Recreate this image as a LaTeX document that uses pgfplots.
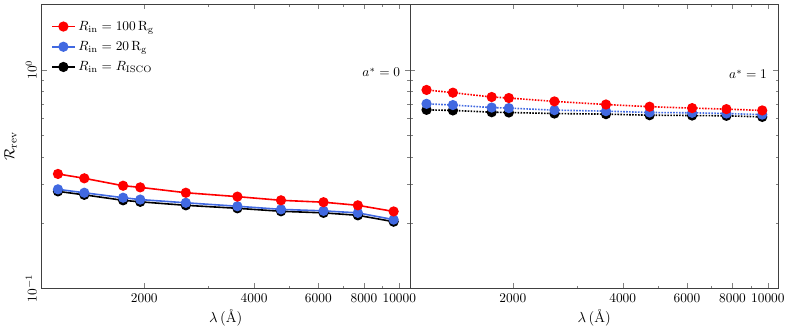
\documentclass[border=0pt]{standalone}
\usepackage{pgfplots}
\pgfplotsset{compat=1.18}
\definecolor{rblue}{RGB}{65,105,225}

% lambda [A], spin 0 (solid) and spin 1 (dotted) ratios
\pgfplotstableread{
lam   sa   sb   sc   ta   tb   tc
1160 0.334 0.284 0.278 0.809 0.699 0.656
1370 0.319 0.274 0.268 0.786 0.690 0.652
1750 0.295 0.260 0.253 0.751 0.672 0.640
1950 0.290 0.255 0.249 0.743 0.668 0.638
2600 0.274 0.2465 0.240 0.717 0.654 0.631
3600 0.263 0.2377 0.2326 0.694 0.647 0.627
4740 0.253 0.230 0.2254 0.678 0.638 0.620
6200 0.248 0.2264 0.2217 0.668 0.636 0.618
7700 0.240 0.2217 0.216 0.661 0.631 0.616
9650 0.225 0.2064 0.202 0.652 0.624 0.609
}\datatab

\pgfplotsset{
  every axis/.append style={
    scale only axis,
    width=276pt, height=213pt,
    xmin=1045, xmax=10700,
    ymin=0.1, ymax=2,
    xtick={2000,4000,6000,8000,10000},
    xticklabels={2000,4000,6000,8000,10000},
    minor xtick={3000,5000,7000,9000},
    ytick={0.1,1},
    minor ytick={0.2,0.3,0.4,0.5,0.6,0.7,0.8,0.9,2},
    major tick length=4pt,
    minor tick length=2pt,
    axis line style={black!75},
    xlabel={$\lambda\,(\mbox{\AA})$},
    xlabel style={font=\fontsize{11}{13}\selectfont, yshift=2pt},
    yticklabel style={rotate=90, anchor=south},
  },
}
\tikzset{sz/.style={line width=1.2pt, mark=*, mark size=3.2pt, mark options={solid}}}

\begin{document}
\begin{tikzpicture}
\begin{loglogaxis}[name=left,
    ylabel={$\mathcal{R}_{\rm rev}$},
    ylabel style={font=\fontsize{11}{13}\selectfont},
    reverse legend,
    legend cell align=left,
    legend style={draw=none, fill=none, at={(0.015,0.96)}, anchor=north west,
      row sep=2.8pt},
  ]
  \addplot[sz, color=black] table[x=lam, y=sc] {\datatab};
  \addlegendentry{$R_{\rm in}=R_{\rm ISCO}$}
  \addplot[sz, color=rblue] table[x=lam, y=sb] {\datatab};
  \addlegendentry{$R_{\rm in}=20\,{\rm R_g}$}
  \addplot[sz, color=red] table[x=lam, y=sa] {\datatab};
  \addlegendentry{$R_{\rm in}=100\,{\rm R_g}$}
  \node[anchor=east] at (rel axis cs:0.986,0.76) {$a^*=0$};
\end{loglogaxis}
\begin{loglogaxis}[at={(left.south east)}, anchor=south west,
    yticklabels={},
  ]
  \addplot[sz, densely dotted, color=black] table[x=lam, y=tc] {\datatab};
  \addplot[sz, densely dotted, color=rblue] table[x=lam, y=tb] {\datatab};
  \addplot[sz, densely dotted, color=red] table[x=lam, y=ta] {\datatab};
  \node[anchor=east] at (rel axis cs:0.981,0.753) {$a^*=1$};
\end{loglogaxis}
\path ([yshift=3pt]left.north west);
\end{tikzpicture}
\end{document}
